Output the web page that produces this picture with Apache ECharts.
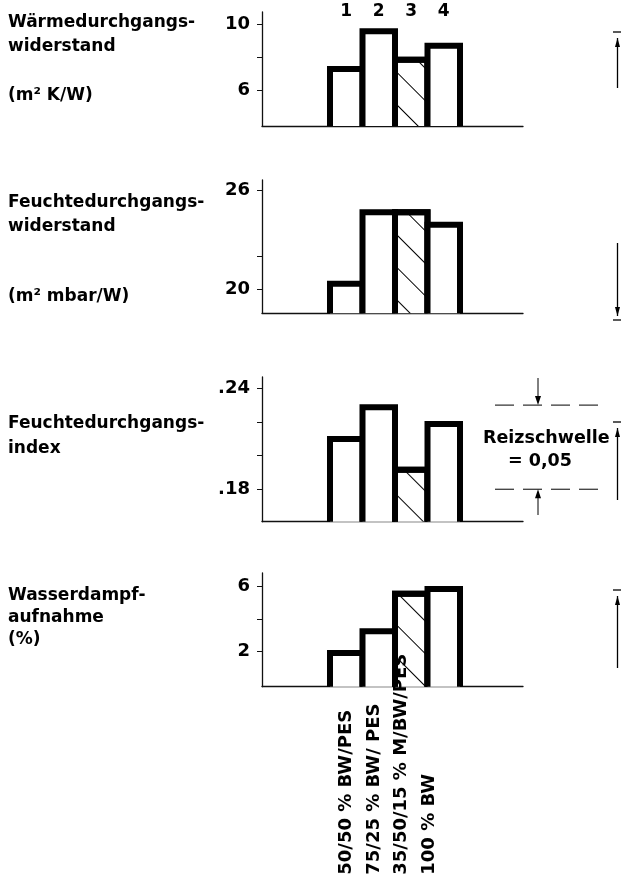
<!DOCTYPE html>
<html><head><meta charset="utf-8">
<script src="https://cdn.jsdelivr.net/npm/echarts@6/dist/echarts.min.js"></script>
<style>html,body{margin:0;padding:0;background:#fff}#c{width:621px;height:880px}</style>
</head><body><div id="c"></div>
<script>
// ---------- data ----------
const categories = ['50/50 % BW/PES', '75/25 % BW/ PES', '35/50/15 % M/BW/PES', '100 % BW'];
const barNumbers = ['1', '2', '3', '4'];
const waermeWiderstand = [7.45, 9.74, 8.02, 8.87];      // m² K/W
const feuchteWiderstand = [20.52, 24.87, 24.87, 24.11]; // m² mbar/W
const feuchteIndex = [0.2117, 0.2305, 0.1934, 0.2206];
const wasserdampf = [2.1, 3.42, 5.71, 6.0];             // %
const tickLabels = [[6, 10], [20, 26], [0.18, 0.24], [2, 6]];
const tickMarks = [[6, 8, 10], [20, 22, 26], [0.18, 0.20, 0.22, 0.24], [2, 4, 6]];
const reizschwelle = [0.23, 0.18]; // Reizschwelle = 0,05
const hatchedIndex = 2;

// ---------- layout / style ----------
const FONT = '"DejaVu Sans", sans-serif';
const GRID_L = 262, GRID_W = 261;
const BAR_W = 32.5, BORDER = 6;
const X_MIN = -2.592, X_MAX = 5.438;
const panels = [
  { top: 12, height: 114, min: 3.818, max: 10.727, data: waermeWiderstand, fmt: v => String(v) },
  { top: 180, height: 133.3, min: 18.54, max: 26.65, data: feuchteWiderstand, fmt: v => String(v) },
  { top: 377, height: 144.7, min: 0.1607, max: 0.2467, data: feuchteIndex, fmt: v => '.' + Math.round(v * 100) },
  { top: 573, height: 113.7, min: -0.13, max: 6.79, data: wasserdampf, fmt: v => String(v) }
];
const AX = { color: '#111', width: 1.3 };
const hatch = {
  symbol: 'rect', symbolSize: 1, color: '#000',
  dashArrayX: [1, 0], dashArrayY: [1, 22], rotation: Math.PI / 4
};

const chart = echarts.init(document.getElementById('c'), null, { renderer: 'canvas', width: 621, height: 880 });

const grid = panels.map(p => ({ left: GRID_L, width: GRID_W, top: p.top, height: p.height }));
grid.push({ left: 333, width: 110, top: 686.7, height: 1 });

const xAxis = panels.map((p, i) => ({
  gridIndex: i, type: 'value', min: X_MIN, max: X_MAX, position: 'bottom',
  axisLine: { show: true, onZero: false, lineStyle: AX },
  axisTick: { show: false }, axisLabel: { show: false }, splitLine: { show: false }
}));
xAxis.push({
  gridIndex: 0, type: 'value', min: X_MIN, max: X_MAX, position: 'top',
  axisLine: { show: false }, axisTick: { show: false }, splitLine: { show: false },
  axisLabel: {
    customValues: [0, 1, 2, 3], formatter: v => barNumbers[Math.round(v)] || '',
    margin: 0, verticalAlign: 'middle',
    fontFamily: FONT, fontWeight: 'bold', fontSize: 17, color: '#000'
  }
});
xAxis.push({
  gridIndex: 4, type: 'category', data: categories, z: 10,
  axisLine: { show: false }, axisTick: { show: false }, splitLine: { show: false },
  axisLabel: {
    interval: 0, rotate: 90, align: 'left', verticalAlign: 'middle', margin: 187,
    fontFamily: FONT, fontWeight: 'bold', fontSize: 18, color: '#000'
  }
});

const yAxis = panels.map((p, i) => ({
  gridIndex: i, type: 'value', min: p.min, max: p.max, startValue: -5,
  axisLine: { show: true, onZero: false, lineStyle: AX },
  axisTick: { show: true, length: 5, customValues: tickMarks[i], lineStyle: { color: '#111', width: 1 } },
  axisLabel: {
    customValues: tickLabels[i], formatter: p.fmt, margin: 12,
    fontFamily: FONT, fontWeight: 'bold', fontSize: 18, color: '#000'
  },
  splitLine: { show: false }
}));
yAxis.push({ gridIndex: 4, type: 'value', show: false });

const series = panels.map((p, i) => ({
  type: 'bar', xAxisIndex: i, yAxisIndex: i, silent: true, clip: true,
  barWidth: BAR_W + BORDER,
  itemStyle: {
    color: '#fff', borderColor: '#000', borderWidth: BORDER,
    borderType: [2000, BAR_W], borderDashOffset: 2000, borderJoin: 'miter'
  },
  data: p.data.map((v, k) => k === hatchedIndex
    ? { value: [k, v], itemStyle: { decal: hatch } }
    : { value: [k, v] })
}));

chart.setOption({ animation: false, backgroundColor: '#fff', grid, xAxis, yAxis, series });

// ---------- texts & annotations ----------
function txt(x, top, text, size, lh, extra) {
  return Object.assign({
    type: 'text', x: x, y: top,
    style: { text, fill: '#000', fontFamily: FONT, fontWeight: 'bold', fontSize: size, lineHeight: lh, align: 'left', verticalAlign: 'top' }
  }, extra || {});
}
const g = [];
g.push(txt(8, 11, 'Wärmedurchgangs-\nwiderstand', 17, 24));
g.push(txt(8, 84, '(m² K/W)', 17, 24));
g.push(txt(8, 191, 'Feuchtedurchgangs-\nwiderstand', 17, 24));
g.push(txt(8, 285, '(m² mbar/W)', 17, 24));
g.push(txt(8, 411, 'Feuchtedurchgangs-\nindex', 17, 25));
g.push(txt(8, 585, 'Wasserdampf-\naufnahme\n(%)', 17, 22));

const yA = chart.convertToPixel({ yAxisIndex: 2 }, reizschwelle[0]);
const yB = chart.convertToPixel({ yAxisIndex: 2 }, reizschwelle[1]);
const dash = { stroke: '#000', lineWidth: 1, lineDash: [19, 9] };
g.push({ type: 'line', shape: { x1: 495, y1: yA, x2: 598, y2: yA }, style: dash });
g.push({ type: 'line', shape: { x1: 495, y1: yB, x2: 598, y2: yB }, style: dash });
g.push({ type: 'line', shape: { x1: 538, y1: 378, x2: 538, y2: yA - 6 }, style: { stroke: '#000', lineWidth: 1 } });
g.push({ type: 'polygon', shape: { points: [[535, yA - 9], [541, yA - 9], [538, yA]] }, style: { fill: '#000' } });
g.push({ type: 'line', shape: { x1: 538, y1: yB + 6, x2: 538, y2: 515 }, style: { stroke: '#000', lineWidth: 1 } });
g.push({ type: 'polygon', shape: { points: [[535, yB + 9], [541, yB + 9], [538, yB]] }, style: { fill: '#000' } });
g.push(txt(483, 426, 'Reizschwelle', 17.5, 24));
g.push(txt(508, 449, '= 0,05', 17.5, 24));

// cut-off marks of the neighbouring figure at the right edge
function edgeMark(yTick, yTip, yEnd, up) {
  const s = { stroke: '#000', lineWidth: 1.3 };
  const out = [];
  out.push({ type: 'line', shape: { x1: 613, y1: yTick, x2: 621, y2: yTick }, style: s });
  out.push({ type: 'line', shape: { x1: 617.5, y1: Math.min(yTip, yEnd), x2: 617.5, y2: Math.max(yTip, yEnd) }, style: s });
  const d = up ? 9 : -9;
  out.push({ type: 'polygon', shape: { points: [[615, yTip + d], [620, yTip + d], [617.5, yTip]] }, style: { fill: '#000' } });
  return out;
}
g.push(...edgeMark(32, 38, 88, true));
g.push(...edgeMark(320, 316, 243, false));
g.push(...edgeMark(422, 428, 500, true));
g.push(...edgeMark(590, 596, 668, true));

chart.setOption({ graphic: g });
</script>
</body></html>
